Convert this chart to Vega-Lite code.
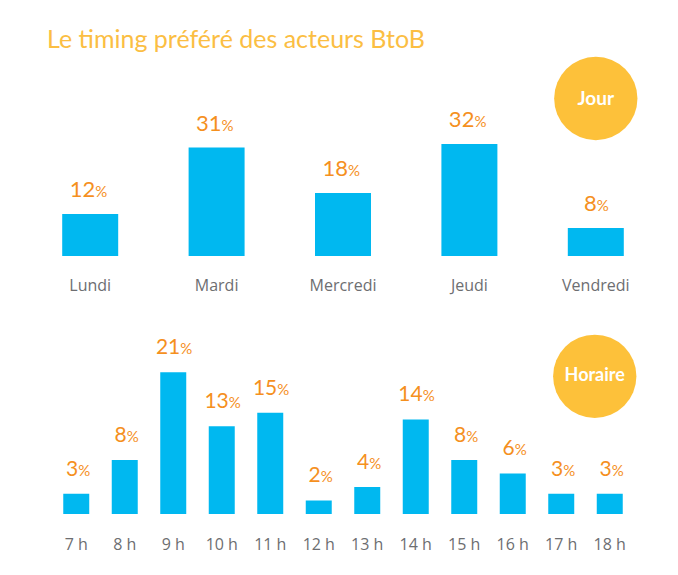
{
  "$schema": "https://vega.github.io/schema/vega-lite/v6.json",
  "background": "white",
  "padding": {"left": 27, "top": 28, "right": 10, "bottom": 10},
  "bounds": "flush",
  "spacing": 70,
  "title": {"text": "Le timing préféré des acteurs BtoB", "anchor": "start", "dx": 20, "fontSize": 25, "font": "Lato", "fontWeight": "normal", "color": "#FBBE43", "offset": -3},
  "config": {"view": {"stroke": null}, "font": "Lato",
    "axisX": {"labelAngle": 0, "labelFontSize": 16, "labelColor": "#6D6E71", "ticks": false, "domain": false, "title": null, "labelFont": "Open Sans", "labelFontWeight": "normal", "grid": false}},
  "datasets": {
    "jours": [
      {"jour": "Lundi", "pct": 12},
      {"jour": "Mardi", "pct": 31},
      {"jour": "Mercredi", "pct": 18},
      {"jour": "Jeudi", "pct": 32},
      {"jour": "Vendredi", "pct": 8}
    ],
    "heures": [
      {"heure": "7 h", "pct": 3},
      {"heure": "8 h", "pct": 8},
      {"heure": "9 h", "pct": 21},
      {"heure": "10 h", "pct": 13},
      {"heure": "11 h", "pct": 15},
      {"heure": "12 h", "pct": 2},
      {"heure": "13 h", "pct": 4},
      {"heure": "14 h", "pct": 14},
      {"heure": "15 h", "pct": 8},
      {"heure": "16 h", "pct": 6},
      {"heure": "17 h", "pct": 3},
      {"heure": "18 h", "pct": 3}
    ]
  },
  "vconcat": [
    {
      "width": 632,
      "height": 206,
      "data": {"name": "jours"},
      "encoding": {
        "x": {"field": "jour", "type": "nominal", "sort": null, "scale": {"paddingInner": 0.557, "paddingOuter": 0.2785}, "axis": {"labelPadding": 21}},
        "y": {"field": "pct", "type": "quantitative", "scale": {"domain": [0, 58.86]}, "axis": null}
      },
      "layer": [
        {"mark": {"type": "bar", "color": "#00B8F0"}},
        {"transform": [{"filter": "datum.pct >= 10"}],
         "mark": {"type": "text", "align": "right", "baseline": "alphabetic", "dx": 5, "dy": -17, "fontSize": 22, "fontWeight": "normal", "color": "#F5901E"},
         "encoding": {"text": {"field": "pct"}}},
        {"transform": [{"filter": "datum.pct >= 10"}],
         "mark": {"type": "text", "align": "left", "baseline": "alphabetic", "dx": 5, "dy": -17, "fontSize": 15, "fontWeight": "normal", "color": "#F5901E"},
         "encoding": {"text": {"value": "%"}}},
        {"transform": [{"filter": "datum.pct < 10"}],
         "mark": {"type": "text", "align": "right", "baseline": "alphabetic", "dx": 1, "dy": -17, "fontSize": 22, "fontWeight": "normal", "color": "#F5901E"},
         "encoding": {"text": {"field": "pct"}}},
        {"transform": [{"filter": "datum.pct < 10"}],
         "mark": {"type": "text", "align": "left", "baseline": "alphabetic", "dx": 1, "dy": -17, "fontSize": 15, "fontWeight": "normal", "color": "#F5901E"},
         "encoding": {"text": {"value": "%"}}},
        {"transform": [{"filter": "datum.jour == 'Vendredi'"}],
         "mark": {"type": "circle", "size": 6940, "color": "#FDC13A", "opacity": 1},
         "encoding": {"y": {"datum": 45}}},
        {"transform": [{"filter": "datum.jour == 'Vendredi'"}],
         "mark": {"type": "text", "baseline": "middle", "align": "center", "fontSize": 19, "fontWeight": "bold", "color": "white"},
         "encoding": {"y": {"datum": 45}, "text": {"value": "Jour"}}}
      ]
    },
    {
      "width": 632,
      "height": 188,
      "data": {"name": "heures"},
      "encoding": {
        "x": {"field": "heure", "type": "nominal", "sort": null, "scale": {"paddingInner": 0.464, "paddingOuter": 0.7475}, "axis": {"labelPadding": 22}},
        "y": {"field": "pct", "type": "quantitative", "scale": {"domain": [0, 27.85]}, "axis": null}
      },
      "layer": [
        {"mark": {"type": "bar", "color": "#00B8F0"}},
        {"transform": [{"filter": "datum.pct >= 10"}],
         "mark": {"type": "text", "align": "right", "baseline": "alphabetic", "dx": 7, "dy": -18, "fontSize": 21, "fontWeight": "normal", "color": "#F5901E"},
         "encoding": {"text": {"field": "pct"}}},
        {"transform": [{"filter": "datum.pct >= 10"}],
         "mark": {"type": "text", "align": "left", "baseline": "alphabetic", "dx": 7, "dy": -18, "fontSize": 15, "fontWeight": "normal", "color": "#F5901E"},
         "encoding": {"text": {"value": "%"}}},
        {"transform": [{"filter": "datum.pct < 10"}],
         "mark": {"type": "text", "align": "right", "baseline": "alphabetic", "dx": 2, "dy": -18, "fontSize": 21, "fontWeight": "normal", "color": "#F5901E"},
         "encoding": {"text": {"field": "pct"}}},
        {"transform": [{"filter": "datum.pct < 10"}],
         "mark": {"type": "text", "align": "left", "baseline": "alphabetic", "dx": 2, "dy": -18, "fontSize": 15, "fontWeight": "normal", "color": "#F5901E"},
         "encoding": {"text": {"value": "%"}}},
        {"transform": [{"filter": "datum.heure == '18 h'"}],
         "mark": {"type": "circle", "size": 6940, "color": "#FDC13A", "opacity": 1, "xOffset": -15},
         "encoding": {"y": {"datum": 20.4}}},
        {"transform": [{"filter": "datum.heure == '18 h'"}],
         "mark": {"type": "text", "baseline": "middle", "align": "center", "fontSize": 18, "fontWeight": "bold", "color": "white", "xOffset": -15},
         "encoding": {"y": {"datum": 20.4}, "text": {"value": "Horaire"}}}
      ]
    }
  ]
}
